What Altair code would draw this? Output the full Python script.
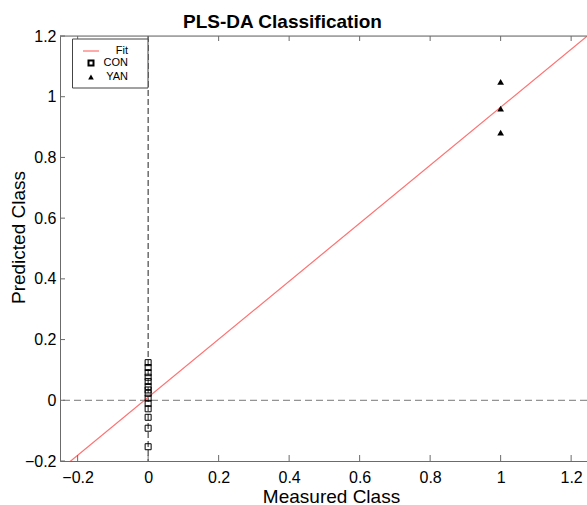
import altair as alt
import pandas as pd

# ---- data ----
con_measured = [0, 0, 0, 0, 0, 0, 0, 0, 0, 0, 0, 0, 0, 0]
con_predicted = [0.124, 0.108, 0.091, 0.076, 0.062, 0.045, 0.034, 0.023,
                 0.007, -0.010, -0.028, -0.056, -0.092, -0.153]
yan_measured = [1, 1, 1]
yan_predicted = [1.049, 0.961, 0.882]
fit_x = [-0.25, 1.25]
fit_y = [-0.229, 1.204]
x_ticks = [-0.2, 0, 0.2, 0.4, 0.6, 0.8, 1, 1.2]
y_ticks = [-0.2, 0, 0.2, 0.4, 0.6, 0.8, 1, 1.2]
legend_labels = ["Fit", "CON", "YAN"]

W, H = 527, 425
FONT = "Liberation Sans"
AXC = "#6b6b6b"

xscale = alt.Scale(domain=[-0.25, 1.245], nice=False, zero=False)
yscale = alt.Scale(domain=[-0.2, 1.2], nice=False, zero=False)

xaxis = alt.Axis(values=x_ticks, title="Measured Class", ticks=False, grid=False,
                 domainColor=AXC, labelFont=FONT, labelFontSize=16, labelColor="black",
                 labelPadding=8, labelFlush=False, labelExpr="datum.value == 0 ? '0' : format(datum.value, '.1~f')",
                 titleFont=FONT, titleFontSize=19, titleFontWeight="normal", titleColor="black",
                 titleX=271, titleY=41, titleBaseline="alphabetic", titleAlign="center")
yaxis = alt.Axis(values=y_ticks, title="Predicted Class", ticks=False, grid=False,
                 domainColor=AXC, labelFont=FONT, labelFontSize=16, labelColor="black",
                 labelPadding=4, labelFlush=False, labelExpr="datum.value == 0 ? '0' : format(datum.value, '.1~f')",
                 titleFont=FONT, titleFontSize=19, titleFontWeight="normal", titleColor="black",
                 titleX=-42, titleY=201, titleBaseline="middle", titleAlign="center", titleAngle=-90)


def X(f):
    return alt.X(f, type="quantitative", scale=xscale, axis=xaxis)


def Y(f):
    return alt.Y(f, type="quantitative", scale=yscale, axis=yaxis)


con_df = pd.DataFrame({"x": con_measured, "y": con_predicted})
yan_df = pd.DataFrame({"x": yan_measured, "y": yan_predicted})
fit_df = pd.DataFrame({"x": fit_x, "y": fit_y})
xt_df = pd.DataFrame({"x": x_ticks})
yt_df = pd.DataFrame({"y": y_ticks})
one = pd.DataFrame({"a": [0]})

hline = alt.Chart(pd.DataFrame({"y": [0]})).mark_rule(
    color="#777777", strokeDash=[7, 4], strokeWidth=1).encode(y=Y("y"))
vline = alt.Chart(pd.DataFrame({"x": [0]})).mark_rule(
    color="#222222", strokeDash=[6, 3], strokeWidth=1).encode(x=X("x"))
fit = alt.Chart(fit_df).mark_line(color="#ff7070", strokeWidth=1.2, clip=True).encode(
    x=X("x"), y=Y("y"))
con = alt.Chart(con_df).mark_point(shape="square", filled=False, size=36, color="black",
                                   strokeWidth=1, opacity=1).encode(x=X("x"), y=Y("y"))
yan = alt.Chart(yan_df).mark_point(shape="triangle-up", filled=True, size=45, color="black",
                                   opacity=1).encode(x=X("x"), y=Y("y"))

# frame + inward ticks
top_line = alt.Chart(one).mark_rule(color=AXC, strokeWidth=1).encode(
    x=alt.value(0), x2=alt.value(W), y=alt.value(0))
bt = alt.Chart(xt_df).mark_rule(color=AXC).encode(x=X("x"), y=alt.value(H - 6), y2=alt.value(H))
tt = alt.Chart(xt_df).mark_rule(color=AXC).encode(x=X("x"), y=alt.value(0), y2=alt.value(5))
lt = alt.Chart(yt_df).mark_rule(color=AXC).encode(y=Y("y"), x=alt.value(0), x2=alt.value(5))

# legend
box = alt.Chart(one).mark_rect(fill="white", stroke="#444444", strokeWidth=1).encode(
    x=alt.value(12.5), x2=alt.value(88), y=alt.value(3), y2=alt.value(52))
lg_line = alt.Chart(one).mark_rule(color="#ff7070", strokeWidth=1.2).encode(
    x=alt.value(23), x2=alt.value(39), y=alt.value(15))
lg_sq = alt.Chart(one).mark_point(shape="square", filled=False, size=25, color="black",
                                  opacity=1).encode(x=alt.value(31), y=alt.value(27))
lg_tri = alt.Chart(one).mark_point(shape="triangle-up", filled=True, size=32, color="black",
                                   opacity=1).encode(x=alt.value(31), y=alt.value(41))
lg_texts = []
for lab, yy in zip(legend_labels, [15, 27, 41]):
    lg_texts.append(alt.Chart(pd.DataFrame({"t": [lab]})).mark_text(
        align="right", baseline="middle", font=FONT, fontSize=11, color="black").encode(
        text="t:N", x=alt.value(68), y=alt.value(yy)))

chart = alt.layer(hline, vline, fit, con, yan, top_line, bt, tt, lt,
                  box, lg_line, lg_sq, lg_tri, *lg_texts).properties(
    width=W, height=H,
    title=alt.TitleParams("PLS-DA Classification", font=FONT, fontSize=19, fontWeight="bold",
                          color="black", dx=-41, dy=10, offset=6),
    padding={"left": 60, "top": 36, "right": 0, "bottom": 44},
    autosize=alt.AutoSizeParams(type="none"),
).configure_view(stroke=None).configure(background="white")

chart.save("out.html", embed_options={"renderer": "svg", "actions": False})
